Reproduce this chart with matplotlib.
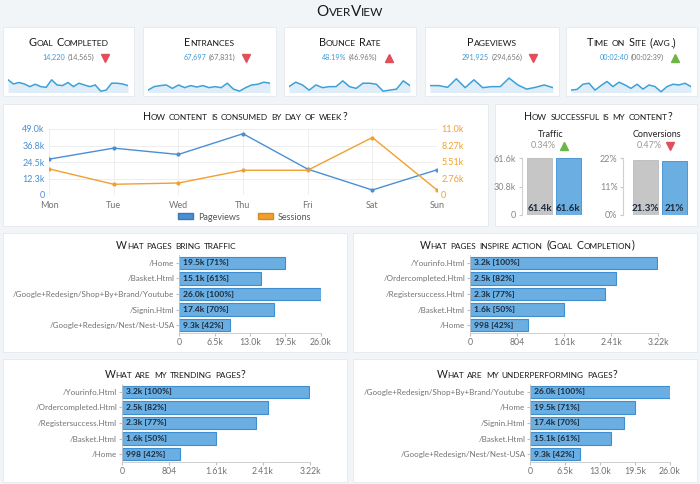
import matplotlib
matplotlib.use("Agg")
import matplotlib.pyplot as plt
from matplotlib.patches import Rectangle, Patch
from matplotlib.lines import Line2D
from matplotlib.offsetbox import TextArea, HPacker, AnnotationBbox
import numpy as np

plt.rcParams['font.family'] = ['Lato', 'DejaVu Sans']

W, H = 700, 484
BG = '#f2f5f8'
BLUE = '#4a8fd4'
ORANGE = '#f0a030'
BAR = '#6aaee2'
BAR_EDGE = '#3f8fd0'
RED = '#e0505a'
GREEN = '#6cb546'
GREY = '#727272'
DARK = '#1c2b3c'

# --- KPI cards ---
kpi_names = ['Goal Completed', 'Entrances', 'Bounce Rate', 'Pageviews', 'Time on Site (avg.)']
kpi_now = ['14,220', '67,697', '48.19%', '291,925', '00:02:40']
kpi_prev = ['14,565', '67,831', '46.96%', '294,656', '00:02:39']
kpi_up = [False, False, True, False, True]
kpi_good = [False, False, False, False, True]

spark_goal = [12.3, 8.3, 9.7, 8.3, 5.7, 8.0, 5.7, 5.0, 12.3, 7.3, 6.7, 9.7, 5.7, 9.0, 7.3, 5.7, 7.3, 1.3, 2.3, 9.0, 9.0, 8.3, 6.7]
spark_entr = [2.3, 5.7, 6.7, 7.3, 4.0, 7.3, 4.7, 6.7, 5.3, 6.7, 4.7, 5.7, 4.7, 9.0, 3.3, 1.3, 4.7, 7.3, 8.0, 10.0, 9.0]
spark_bounce = [5.7, 10.0, 7.3, 2.3, 7.3, 4.7, 5.7, 5.7, 11.3, 5.7, 4.0, 9.0, 9.0, 8.0, 1.3, 2.3, 3.3, 11.3, 6.7]
spark_pv = [6.7, 6.7, 5.0, 13.3, 4.7, 12.3, 4.7, 5.7, 5.7, 14.0, 7.3, 3.3, 5.0, 7.3, 4.7]
spark_time = [2.3, 3.0, 8.0, 9.0, 2.3, 6.7, 10.7, 5.7, 10.0, 7.3, 4.0, 8.0, 3.3, 7.3, 5.7, 0.7, 5.7, 8.0, 7.3, 9.0, 5.7]
sparks = [spark_goal, spark_entr, spark_bounce, spark_pv, spark_time]

# --- day of week (thousands) ---
days = ['Mon', 'Tue', 'Wed', 'Thu', 'Fri', 'Sat', 'Sun']
pageviews = [26.6, 34.8, 30.1, 45.5, 19.2, 3.7, 18.7]
sessions = [4.36, 1.79, 2.0, 4.13, 4.13, 9.6, 0.84]

# --- success ---
traffic = [61.4, 61.6]
traffic_change = '0.34%'
conversions = [21.3, 21.0]
conv_change = '0.47%'

# --- pages ---
traffic_pages = ['/Home', '/Basket.Html', '/Google+Redesign/Shop+By+Brand/Youtube', '/Signin.Html', '/Google+Redesign/Nest/Nest-USA']
traffic_vals = [19.5, 15.1, 26.0, 17.4, 9.3]
traffic_pct = [71, 61, 100, 70, 42]

action_pages = ['/Yourinfo.Html', '/Ordercompleted.Html', '/Registersuccess.Html', '/Basket.Html', '/Home']
action_vals = [3.2, 2.5, 2.3, 1.6, 0.998]
action_pct = [100, 82, 77, 50, 42]

trend_pages = ['/Yourinfo.Html', '/Ordercompleted.Html', '/Registersuccess.Html', '/Basket.Html', '/Home']
trend_vals = [3.2, 2.5, 2.3, 1.6, 0.998]
trend_pct = [100, 82, 77, 50, 42]

under_pages = ['/Google+Redesign/Shop+By+Brand/Youtube', '/Home', '/Signin.Html', '/Basket.Html', '/Google+Redesign/Nest/Nest-USA']
under_vals = [26.0, 19.5, 17.4, 15.1, 9.3]
under_pct = [100, 71, 70, 61, 42]

views_ticks = [0, 6.5, 13.0, 19.5, 26.0]
views_labels = ['0', '6.5k', '13.0k', '19.5k', '26.0k']
goal_ticks = [0, 0.804, 1.608, 2.412, 3.216]
goal_labels = ['0', '804', '1.61k', '2.41k', '3.22k']

fig = plt.figure(figsize=(7, 4.84), dpi=100, facecolor=BG)


def rect(x0, y0, x1, y1):
    return [x0 / W, 1 - y1 / H, (x1 - x0) / W, (y1 - y0) / H]


def panel(x0, y0, x1, y1):
    fig.patches.append(Rectangle((x0 / W, 1 - y1 / H), (x1 - x0) / W, (y1 - y0) / H,
                                 transform=fig.transFigure, facecolor='white',
                                 edgecolor='#e4e9ee', lw=0.6, zorder=-5))


def small_caps(x, y, text, size, color='#222222'):
    words = []
    for word in text.split(' '):
        runs = []
        cur, big = '', None
        for ch in word:
            b = not ch.islower()
            if big is not None and b != big:
                runs.append((cur, big))
                cur = ''
            cur += ch
            big = b
        runs.append((cur, big))
        boxes = [TextArea(s.upper(), textprops=dict(size=size if bg else size * 0.78, color=color))
                 for s, bg in runs]
        words.append(HPacker(children=boxes, align='baseline', pad=0, sep=0))
    pack = HPacker(children=words, align='baseline', pad=0, sep=size * 0.3)
    ab = AnnotationBbox(pack, (x / W, 1 - y / H), xycoords='figure fraction',
                        frameon=False, box_alignment=(0.5, 0.5), pad=0)
    fig.add_artist(ab)


def triangle(x, y, up, color):
    fig.add_artist(Line2D([x / W], [1 - y / H], transform=fig.transFigure,
                          marker='^' if up else 'v', ms=5.5, color=color, mec=color, lw=0))


def kfmt(v):
    return f'{v:.1f}k' if v >= 1 else f'{v * 1000:.0f}'


# title
small_caps(350, 12, 'OverView', 11, '#1a1a1a')

# KPI cards
cards = [(3, 134), (143, 276), (284, 416), (425, 559), (566, 697)]
value_boxes = []
for i, (x0, x1) in enumerate(cards):
    panel(x0, 27, x1, 96)
    cx = (x0 + x1) / 2
    small_caps(cx, 42.5, kpi_names[i], 7.8, '#1a1a1a')
    pack = HPacker(children=[TextArea(kpi_now[i], textprops=dict(size=5.2, color='#3a9ad9')),
                             TextArea('(' + kpi_prev[i] + ')', textprops=dict(size=5.2, color='#777777'))],
                   align='baseline', pad=0, sep=1.6)
    ab = AnnotationBbox(pack, (cx / W, 1 - 57.5 / H), xycoords='figure fraction',
                        frameon=False, box_alignment=(0.5, 0.5), pad=0)
    fig.add_artist(ab)
    value_boxes.append(ab)

    ax = fig.add_axes(rect(x0 + 5, 76, x1 - 6, 92.5))
    v = sparks[i]
    xs = np.arange(len(v))
    ax.fill_between(xs, v, 0, color='#deedf8', lw=0)
    ax.plot(xs, v, color='#3ea0d8', lw=1.1)
    ax.set_xlim(0, len(v) - 1)
    ax.set_ylim(0, 16)
    ax.axis('off')

fig.canvas.draw()
renderer = fig.canvas.get_renderer()
for i, ab in enumerate(value_boxes):
    ext = ab.offsetbox.get_window_extent(renderer)
    col = GREEN if kpi_good[i] else RED
    triangle(ext.x1 + 11, 57.5, kpi_up[i], col)

# Line chart panel
panel(3, 104, 488, 226)
small_caps(245, 116, 'How content is consumed by day of week?', 7.6, '#1a1a1a')
ax = fig.add_axes(rect(49, 129, 437, 195))
x = np.arange(len(days))
ax.plot(x, pageviews, color=BLUE, lw=1, marker='o', ms=2, zorder=3)
ax.set_xlim(0, len(days) - 1)
ax.set_ylim(0, 49)
ax.set_yticks([0, 12.25, 24.5, 36.75, 49])
ax.set_yticklabels(['0', '12.3k', '24.5k', '36.8k', '49.0k'])
ax.set_xticks(x)
ax.set_xticklabels(days)
ax.grid(True, color='#ebebeb', lw=0.6)
for s in ax.spines.values():
    s.set_visible(False)
ax.tick_params(axis='y', length=0, labelsize=6.5, labelcolor=BLUE, pad=3)
ax.tick_params(axis='x', length=0, labelsize=6.5, labelcolor=GREY, pad=4)
ax2 = ax.twinx()
ax2.plot(x, sessions, color=ORANGE, lw=1, marker='o', ms=2, zorder=3)
ax2.set_ylim(0, 11.02)
ax2.set_yticks([0, 2.755, 5.51, 8.265, 11.02])
ax2.set_yticklabels(['0', '2.76k', '5.51k', '8.27k', '11.0k'])
for s in ax2.spines.values():
    s.set_visible(False)
ax2.tick_params(axis='y', length=0, labelsize=6.5, labelcolor=ORANGE, pad=3)
fig.legend([Patch(facecolor=BLUE, edgecolor='#3a78b8'), Patch(facecolor=ORANGE, edgecolor='#d88a20')],
           ['Pageviews', 'Sessions'], loc='center', bbox_to_anchor=(245 / W, 1 - 217 / H),
           ncol=2, frameon=False, fontsize=6.5, handlelength=1.6, handleheight=0.6,
           columnspacing=2.0, handletextpad=0.6, labelcolor='#555555')

# Success panel
panel(495, 104, 697, 226)
small_caps(598, 116, 'How successful is my content?', 7.6, '#1a1a1a')


def success(axr, vals, ticks, tlabels, xlim, title, tx, change, cx, up, col, labels):
    fig.text(tx / W, 1 - 134 / H, title, ha='center', va='center', fontsize=6.5, color='#222222')
    fig.text(cx / W, 1 - 146 / H, change, ha='right', va='center', fontsize=6.5, color='#999999')
    triangle(cx + 8, 146, up, col)
    a = fig.add_axes(rect(*axr))
    a.bar([0, 1], vals, width=0.88, color=['#c6c6c6', BAR], edgecolor=['#bababa', BAR_EDGE], lw=0.6)
    a.set_xlim(*xlim)
    a.set_ylim(0, ticks[-1])
    a.set_yticks(ticks)
    a.set_yticklabels(tlabels)
    a.set_xticks([])
    for s in ['top', 'right', 'bottom']:
        a.spines[s].set_visible(False)
    a.spines['left'].set_color('#d0d0d0')
    a.tick_params(axis='y', length=2, color='#c8c8c8', labelsize=6.5, labelcolor='#888888', pad=2)
    for i, lab in enumerate(labels):
        a.text(i, ticks[-1] * 0.03, lab, ha='center', va='bottom', fontsize=7, color=DARK, weight='bold')


success((522, 158, 586, 215), traffic, [0, 30.8, 61.6], ['0', '30.8k', '61.6k'], (-0.63, 1.62),
        'Traffic', 551, traffic_change, 556, True, GREEN, [f'{v:.1f}k' for v in traffic])
success((623, 158, 690, 215), conversions, [0, 11, 22], ['0%', '11%', '22%'], (-0.78, 1.55),
        'Conversions', 657, conv_change, 662, False, RED, [f'{v:g}%' for v in conversions])


# horizontal bar panels
def hbar(box, axr, title, tpos, pages, vals, pct, ticks, tlabels):
    panel(*box)
    small_caps(tpos[0], tpos[1], title, 7.6, '#1a1a1a')
    a = fig.add_axes(rect(*axr))
    y = np.arange(len(pages))
    a.barh(y, vals, height=0.8, color=BAR, edgecolor=BAR_EDGE, lw=0.8)
    a.set_ylim(len(pages) - 0.5, -0.5)
    a.set_xlim(0, ticks[-1])
    a.set_yticks(y)
    a.set_yticklabels(pages)
    a.set_xticks(ticks)
    a.set_xticklabels(tlabels)
    for s in ['top', 'right']:
        a.spines[s].set_visible(False)
    for s in ['left', 'bottom']:
        a.spines[s].set_color('#c8c8c8')
        a.spines[s].set_linewidth(0.6)
    a.tick_params(length=2, color='#c0c0c0', labelcolor=GREY, pad=1.5)
    a.tick_params(axis='y', labelsize=5.8)
    a.tick_params(axis='x', labelsize=6.3)
    for i in y:
        a.annotate(f'{kfmt(vals[i])} [{pct[i]}%]', (0, i), xytext=(3, 0), textcoords='offset points',
                   ha='left', va='center', fontsize=6.1, color=DARK, weight='bold')


hbar((3, 233, 347, 352), (179.3, 255, 320.5, 333), 'What pages bring traffic', (176, 245),
     traffic_pages, traffic_vals, traffic_pct, views_ticks, views_labels)
hbar((353, 233, 697, 352), (470, 255, 658.3, 333), 'What pages inspire action (Goal Completion)', (527, 245),
     action_pages, action_vals, action_pct, goal_ticks, goal_labels)
hbar((3, 359, 347, 482), (122, 384, 310, 462), 'What are my trending pages?', (175, 374),
     trend_pages, trend_vals, trend_pct, goal_ticks, goal_labels)
hbar((353, 359, 697, 482), (530.3, 384, 670, 462), 'What are my underperforming pages?', (527, 374),
     under_pages, under_vals, under_pct, views_ticks, views_labels)

fig.savefig('out.png', dpi=100, facecolor=BG)
